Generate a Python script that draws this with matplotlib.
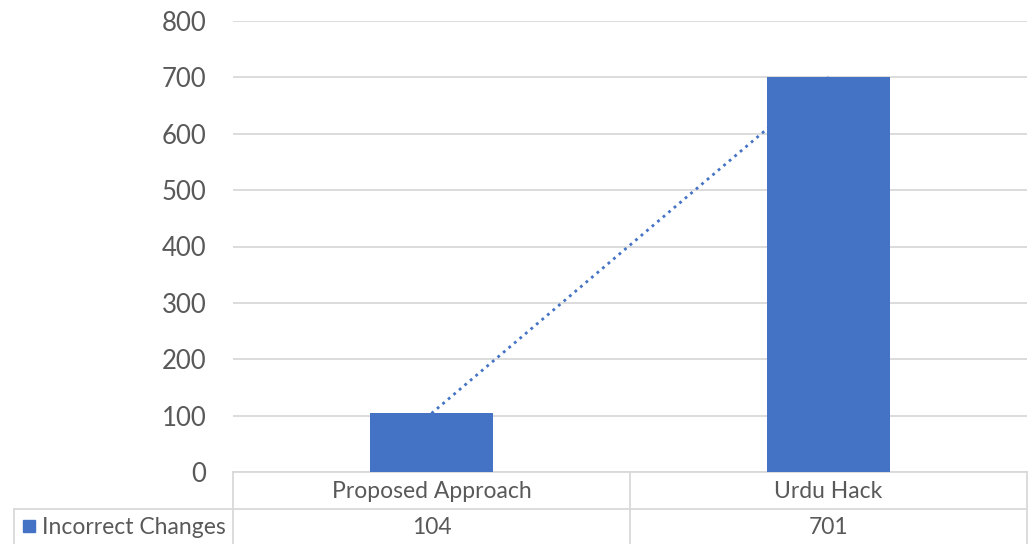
import matplotlib
matplotlib.use("Agg")
import matplotlib.pyplot as plt
import numpy as np
from matplotlib.transforms import blended_transform_factory

categories = ["Proposed Approach", "Urdu Hack"]
incorrect_changes = [104, 701]
series_name = "Incorrect Changes"
y_ticks = [0, 100, 200, 300, 400, 500, 600, 700, 800]

bar_color = "#4472C4"
grid_color = "#D9D9D9"
text_color = "#595959"

plt.rcParams['font.family'] = ['Lato', 'DejaVu Sans']

W, H = 1036, 544
fig = plt.figure(figsize=(W / 100, H / 100), dpi=100, facecolor='w')

# overlay in pixel coordinates for the data table
over = fig.add_axes([0, 0, 1, 1], zorder=0)
over.set_xlim(0, W)
over.set_ylim(H, 0)
over.axis('off')

ax = fig.add_axes([233 / W, 1 - 472 / H, (1027 - 233) / W, (472 - 21) / H], zorder=1)
ax.patch.set_alpha(0)
x = np.arange(len(categories))
ax.bar(x, incorrect_changes, width=0.31, color=bar_color, zorder=3)

# linear trendline (dotted)
k, b = np.polyfit(x, incorrect_changes, 1)
ax.plot(x, k * x + b, linestyle=(0, (1, 1.6)), color=bar_color, linewidth=2, zorder=2)

ax.set_xlim(-0.5, 1.5)
ax.set_ylim(0, 800)
ax.set_yticks(y_ticks)
ax.set_xticks([])
ax.yaxis.grid(True, color=grid_color, linewidth=1.3)
ax.set_axisbelow(True)
for s in ax.spines.values():
    s.set_visible(False)
ax.tick_params(axis='y', length=0, pad=19, labelsize=18.5, labelcolor=text_color)

# data table
lc = dict(color=grid_color, linewidth=1.3)
over.plot([233, 1027], [472, 472], **lc)
over.plot([14, 1027], [509, 509], **lc)
for xv, y0 in [(14, 509), (233, 472), (630, 472), (1027, 472)]:
    over.plot([xv, xv], [y0, H], **lc)

tr = blended_transform_factory(ax.transData, over.transData)
for i, (cat, val) in enumerate(zip(categories, incorrect_changes)):
    over.text(i, 491, cat, transform=tr, ha='center', va='center', fontsize=16.5, color=text_color)
    over.text(i, 527, str(val), transform=tr, ha='center', va='center', fontsize=16.5, color=text_color)

over.add_patch(plt.Rectangle((23, 520), 12, 12, color=bar_color))
over.text(42, 527, series_name, ha='left', va='center', fontsize=16.5, color=text_color)

fig.savefig('out.png', dpi=100)
